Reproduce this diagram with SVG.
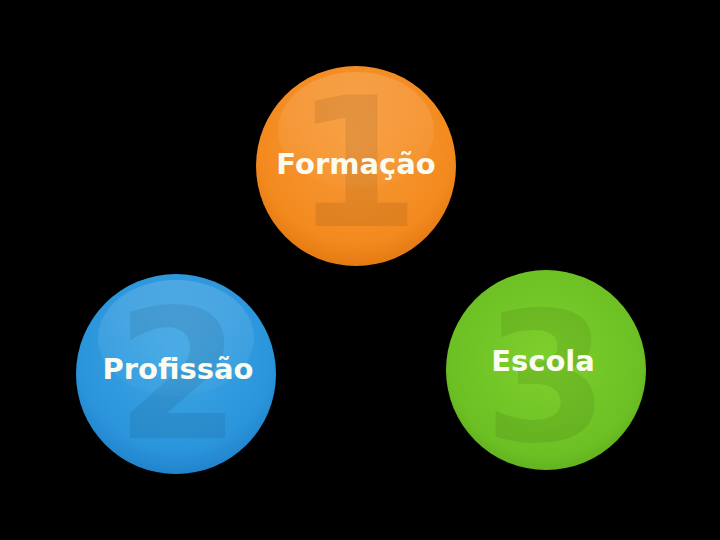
<svg xmlns="http://www.w3.org/2000/svg" width="720" height="540" viewBox="0 0 720 540">
<defs>
<radialGradient id="gO" cx="50%" cy="40%" r="60%">
<stop offset="0" stop-color="#f89a38"/><stop offset="0.8" stop-color="#f38a1f"/><stop offset="1" stop-color="#e47a12"/>
</radialGradient>
<radialGradient id="gB" cx="50%" cy="40%" r="60%">
<stop offset="0" stop-color="#3ea6e4"/><stop offset="0.8" stop-color="#2b95dc"/><stop offset="1" stop-color="#2184cc"/>
</radialGradient>
<radialGradient id="gG" cx="50%" cy="45%" r="60%">
<stop offset="0" stop-color="#7ed02c"/><stop offset="0.8" stop-color="#6cc024"/><stop offset="1" stop-color="#5caa1c"/>
</radialGradient>
<linearGradient id="hl" x1="0" y1="0" x2="0" y2="1">
<stop offset="0" stop-color="#fff" stop-opacity="0.14"/><stop offset="1" stop-color="#fff" stop-opacity="0.02"/>
</linearGradient>
</defs>
<style>
.digit{font-family:"DejaVu Sans",sans-serif;font-weight:bold;font-size:180px;text-anchor:middle;fill:#000;fill-opacity:0.08}
.lbl{font-family:"DejaVu Sans",sans-serif;font-weight:bold;font-size:29px;fill:#fbfbf0;text-anchor:middle}
</style>
<rect width="720" height="540" fill="#000"/>
<g id="node-formacao">
<circle cx="356" cy="166" r="100" fill="url(#gO)"/>
<ellipse cx="356" cy="130" rx="78" ry="58" fill="url(#hl)"/>
<text class="digit" x="357" y="226">1</text>
<text class="lbl" x="356" y="174">Formação</text>
</g>
<g id="node-profissao">
<circle cx="176" cy="374" r="100" fill="url(#gB)"/>
<ellipse cx="176" cy="338" rx="78" ry="58" fill="url(#hl)"/>
<text class="digit" x="178" y="438">2</text>
<text class="lbl" x="178" y="379">Profissão</text>
</g>
<g id="node-escola">
<circle cx="546" cy="370" r="100" fill="url(#gG)"/>
<text class="digit" x="546" y="440">3</text>
<text class="lbl" x="543" y="371">Escola</text>
</g>
<g id="connectors"/>
</svg>
